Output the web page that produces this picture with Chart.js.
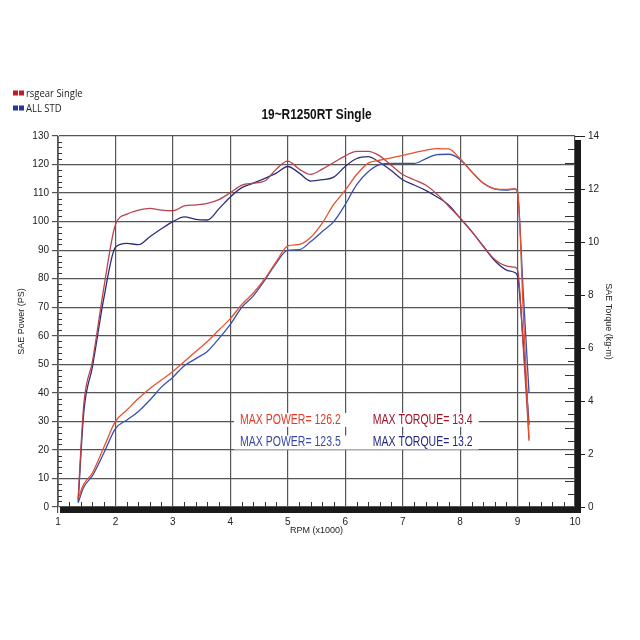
<!DOCTYPE html>
<html>
<head>
<meta charset="utf-8">
<script src="https://cdn.jsdelivr.net/npm/chart.js@4.4.1/dist/chart.umd.min.js"></script>
<style>
  html, body { margin: 0; padding: 0; background: #fff; }
</style>
</head>
<body>
<canvas id="dyno" width="640" height="640"></canvas>
<script>
// rpm in x1000
const rpm = [1.35, 1.45, 1.6, 1.8, 2.0, 2.2, 2.4, 2.6, 2.8, 3.0, 3.2, 3.4, 3.6, 3.8, 4.0, 4.2, 4.4, 4.6, 4.8, 5.0,
             5.2, 5.4, 5.6, 5.8, 6.0, 6.2, 6.4, 6.6, 6.8, 7.0, 7.2, 7.4, 7.6, 7.8, 8.0, 8.2, 8.4, 8.6, 8.8, 8.95,
             9.0, 9.1, 9.2];

// power, PS (left axis)
const rsgearPower = [3, 8, 12, 21, 30, 34, 38, 41.5, 44.5, 47.5, 51, 54.5, 58, 62, 66, 71, 75, 80, 86, 91.5,
                     92, 94.5, 99.5, 106, 111, 116.5, 120.5, 121.5, 122.3, 123.2, 124.2, 125, 125.6, 125.5, 122, 117.5, 113.5, 111.5, 111.3, 111.5,
                     110.5, 68, 24];
const stdPower = [1.5, 7, 11, 19, 27.5, 30.5, 33.5, 37.5, 42, 45.5, 49.5, 52, 54.5, 59, 64, 70, 74, 79.5, 85.5, 90,
                  90.2, 93, 96.5, 100, 106, 113, 117.5, 120, 120.4, 120.4, 120.4, 122, 123.5, 123.6, 121.8, 117.5, 113.5, 111.5, 111, 111.5,
                  110, 75, 40];

// torque, kg-m (right axis)
const rsgearTorque = [0.3, 3.9, 5.5, 8.3, 10.65, 11.05, 11.2, 11.27, 11.2, 11.18, 11.36, 11.4, 11.46, 11.6, 11.86, 12.15, 12.22, 12.3, 12.75, 13.05,
                      12.75, 12.55, 12.75, 13.0, 13.25, 13.42, 13.42, 13.25, 12.9, 12.55, 12.35, 12.15, 11.8, 11.35, 10.9, 10.4, 9.85, 9.35, 9.1, 9.05,
                      8.95, 6.0, 2.5];
const stdTorque = [0.2, 3.6, 5.3, 7.9, 9.8, 9.95, 9.9, 10.2, 10.5, 10.77, 10.95, 10.85, 10.83, 11.25, 11.7, 12.05, 12.22, 12.4, 12.6, 12.85,
                   12.6, 12.3, 12.35, 12.45, 12.85, 13.15, 13.22, 13.0, 12.7, 12.35, 12.15, 11.95, 11.7, 11.4, 10.9, 10.4, 9.85, 9.3, 8.95, 8.85,
                   8.7, 6.2, 3.1];

const seriesNames = ['rsgear Single', 'ALL STD'];
const maxPower = ['126.2', '123.5'];
const maxTorque = ['13.4', '13.2'];

const sans = '"Liberation Sans", Arial, sans-serif';

const pts = (ys) => rpm.map((r, i) => ({x: r, y: ys[i]}));

function line(label, ys, color, axis) {
  return {
    label: label,
    data: pts(ys),
    yAxisID: axis,
    borderColor: color,
    borderWidth: 1.3,
    pointRadius: 0,
    fill: false,
    cubicInterpolationMode: 'monotone'
  };
}

// text squeezed sideways, the original uses a narrow font
function narrowText(c, text, x, y, sx, align) {
  const w = c.measureText(text).width * sx;
  let left = x;
  if (align === 'center') left = x - w / 2;
  c.save();
  c.translate(left, y);
  c.scale(sx, 1);
  c.textAlign = 'left';
  c.fillText(text, 0, 0);
  c.restore();
  return w;
}

// small ticks, thick frame bars, header and the max value texts
const decor = {
  id: 'decor',
  beforeDatasetsDraw(chart) {
    const c = chart.ctx, a = chart.chartArea;
    const x = chart.scales.x, y = chart.scales.y, y2 = chart.scales.y2;
    c.save();
    c.strokeStyle = '#333';
    c.lineWidth = 1;
    c.beginPath();
    for (let v = 2; v < 130; v += 2) {
      if (v % 10 === 0) continue;
      const py = Math.round(y.getPixelForValue(v)) + 0.5;
      c.moveTo(a.left, py); c.lineTo(a.left + 4, py);
    }
    for (let v = 0.5; v < 14; v += 0.5) {
      const py = Math.round(y2.getPixelForValue(v)) + 0.5;
      const len = (v % 1 === 0) ? 10 : 7;
      c.moveTo(a.right - len, py); c.lineTo(a.right, py);
    }
    for (let k = 1; k < 45; k++) {
      if (k % 5 === 0) continue;
      const px = Math.round(x.getPixelForValue(1 + k * 0.2)) + 0.5;
      c.moveTo(px, a.bottom - 5); c.lineTo(px, a.bottom);
    }
    c.stroke();
    c.fillStyle = '#1a1a1a';
    c.fillRect(a.right, a.top + 4, 6, a.bottom - a.top + 2);
    c.fillRect(a.left + 2, a.bottom, a.right - a.left + 4, 6);
    c.restore();
  },
  afterDraw(chart) {
    const c = chart.ctx;
    const x = chart.scales.x, y = chart.scales.y;
    c.save();
    // header legend
    const legendColors = ['#c4182c', '#28389a'];
    c.textBaseline = 'middle';
    seriesNames.forEach((name, i) => {
      const cy = 93.5 + i * 15;
      c.fillStyle = legendColors[i];
      c.fillRect(13, cy - 3, 5, 5);
      c.fillRect(19, cy - 3, 5, 5);
      c.fillStyle = '#222';
      c.font = '11px "Open Sans", sans-serif';
      narrowText(c, name, 26, cy, 0.86, 'left');
    });
    // title
    c.font = 'bold 14px ' + sans;
    c.fillStyle = '#111';
    narrowText(c, '19~R1250RT Single', (chart.chartArea.left + chart.chartArea.right) / 2, 115, 0.85, 'center');

    // max values
    const rows = [
      {p: maxPower[0], t: maxTorque[0], pc: '#e23a28', tc: '#a0122a', at: 30.5},
      {p: maxPower[1], t: maxTorque[1], pc: '#3a48aa', tc: '#24287c', at: 22.6}
    ];
    c.font = '14px ' + sans;
    const x0 = x.getPixelForValue(4.17);
    const x1 = x.getPixelForValue(6.48);
    const sx = 0.75;
    rows.forEach(r => {
      const py = y.getPixelForValue(r.at);
      const w2 = c.measureText('MAX TORQUE= ' + r.t).width * sx;
      c.fillStyle = '#fff';
      c.fillRect(x0 - 6, py - 7, x1 + w2 - x0 + 12, 14);
      c.fillStyle = r.pc;
      narrowText(c, 'MAX POWER= ' + r.p, x0, py, sx, 'left');
      c.fillStyle = r.tc;
      narrowText(c, 'MAX TORQUE= ' + r.t, x1, py, sx, 'left');
    });
    c.restore();
  }
};

new Chart(document.getElementById('dyno'), {
  type: 'line',
  data: {
    datasets: [
      line('rsgear Power', rsgearPower, '#e8502e', 'y'),
      line('STD Power', stdPower, '#3a4fb0', 'y'),
      line('rsgear Torque', rsgearTorque, '#b8434f', 'y2'),
      line('STD Torque', stdTorque, '#2c2f78', 'y2')
    ]
  },
  options: {
    responsive: false,
    animation: false,
    devicePixelRatio: 1,
    layout: {padding: {top: 136, left: 0, right: 0, bottom: 0}},
    plugins: {legend: {display: false}, title: {display: false}, tooltip: {enabled: false}},
    scales: {
      x: {
        type: 'linear', min: 1, max: 10,
        afterFit: s => { s.height = 133; },
        ticks: {stepSize: 1, color: '#222', padding: 3, font: {family: sans, size: 10}},
        grid: {color: '#555', lineWidth: 1.2, tickLength: 6},
        border: {display: false},
        title: {display: true, text: 'RPM (x1000)', color: '#222', font: {family: sans, size: 9}, padding: {top: 0, bottom: 104}}
      },
      y: {
        position: 'left', min: 0, max: 130,
        afterFit: s => { s.width = 58; },
        ticks: {stepSize: 10, color: '#222', padding: 3, font: {family: sans, size: 10}},
        grid: {color: '#555', lineWidth: 1.2, tickLength: 6},
        border: {color: '#777', width: 1},
        title: {display: true, text: 'SAE Power (PS)', color: '#222', font: {family: sans, size: 9}, padding: {top: 16, bottom: 0}}
      },
      y2: {
        position: 'right', min: 0, max: 14,
        afterFit: s => { s.width = 65; },
        ticks: {stepSize: 2, color: '#222', padding: 3, font: {family: sans, size: 10}},
        grid: {drawOnChartArea: false, color: '#222', tickLength: 10},
        border: {display: false},
        title: {display: true, text: 'SAE Torque (kg-m)', color: '#222', font: {family: sans, size: 9}, padding: {top: 26, bottom: 0}}
      }
    }
  },
  plugins: [decor]
});
</script>
</body>
</html>
